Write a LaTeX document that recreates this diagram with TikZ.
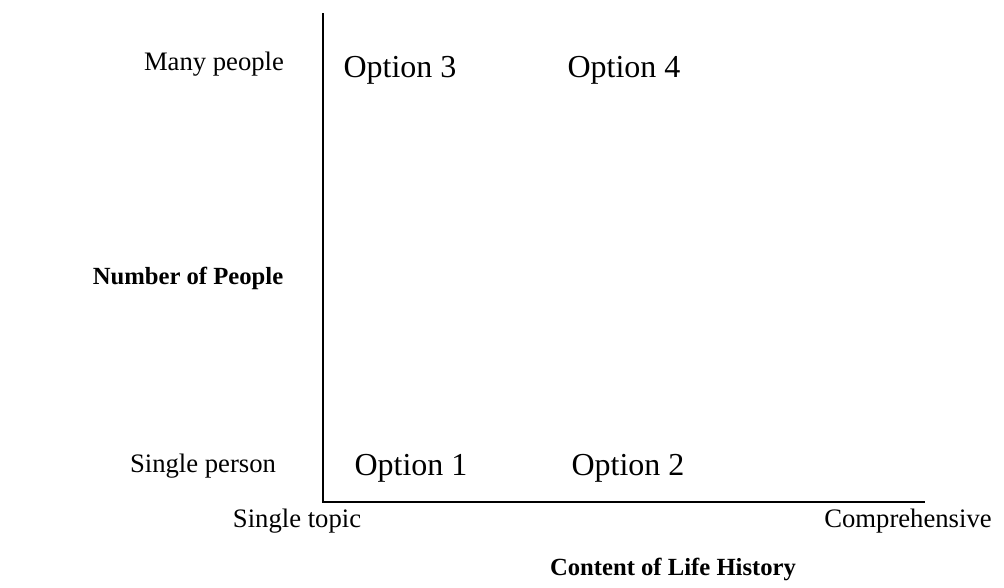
\documentclass[tikz,border=0pt]{standalone}
\usepackage{fontspec}
\setmainfont{Liberation Serif}
\begin{document}
\begin{tikzpicture}[x=0.75pt,y=-0.75pt,
  axis/.style={line width=2.2pt},
  opt/.style={font=\fontsize{24}{27}\selectfont, inner sep=0pt},
  lbl/.style={font=\fontsize{20}{23}\selectfont, inner sep=0pt},
  ttl/.style={font=\fontsize{18.5}{22}\selectfont\bfseries, inner sep=0pt}]
\useasboundingbox (0,0) rectangle (1004,587);
\coordinate (top) at (323,13);
\coordinate (origin) at (323,502);
\coordinate (right) at (925,502);
\draw[axis] (top) -- (origin) -- (right);
\node[lbl] (many) at (214,64) {Many people};
\node[lbl] (single) at (203,466) {Single person};
\node[opt] (o3) at (400,70) {Option 3};
\node[opt] (o4) at (624,70) {Option 4};
\node[opt] (o1) at (411,468) {Option 1};
\node[opt] (o2) at (628,468) {Option 2};
\node[ttl] (nop) at (188,278) {Number of People};
\node[lbl] (stopic) at (297,521) {Single topic};
\node[lbl] (comp) at (908,521) {Comprehensive};
\node[ttl] (clh) at (673,569) {Content of Life History};
\end{tikzpicture}
\end{document}
